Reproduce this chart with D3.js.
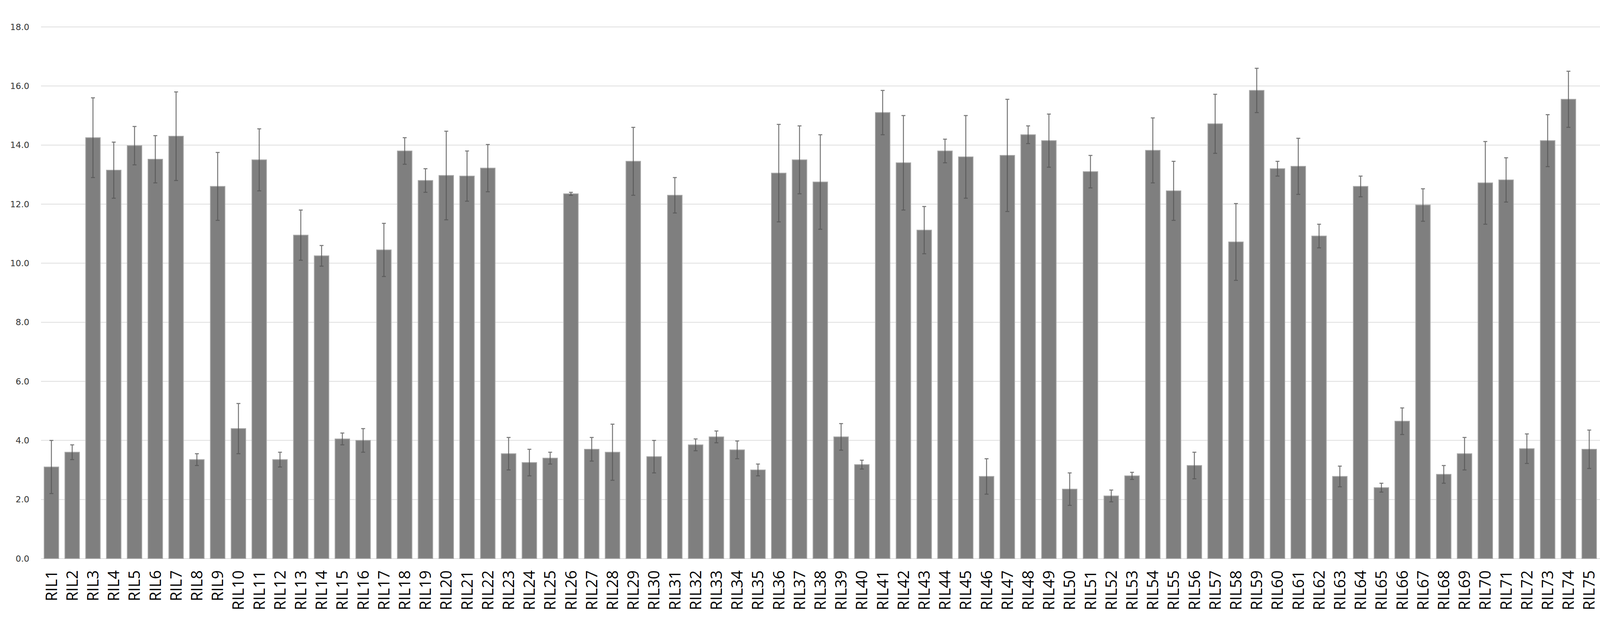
<!DOCTYPE html>
<html><head><meta charset="utf-8">
<script src="https://cdn.jsdelivr.net/npm/d3@7"></script>
<style>body{margin:0;background:#fff}</style></head>
<body><svg id="chart" width="4394" height="1591"></svg>
<script>
const lines = ["RIL1","RIL2","RIL3","RIL4","RIL5","RIL6","RIL7","RIL8","RIL9","RIL10","RIL11","RIL12","RIL13","RIL14","RIL15","RIL16","RIL17","RIL18","RIL19","RIL20","RIL21","RIL22","RIL23","RIL24","RIL25","RIL26","RIL27","RIL28","RIL29","RIL30","RIL31","RIL32","RIL33","RIL34","RIL35","RIL36","RIL37","RIL38","RIL39","RIL40","RIL41","RIL42","RIL43","RIL44","RIL45","RIL46","RIL47","RIL48","RIL49","RIL50","RIL51","RIL52","RIL53","RIL54","RIL55","RIL56","RIL57","RIL58","RIL59","RIL60","RIL61","RIL62","RIL63","RIL64","RIL65","RIL66","RIL67","RIL68","RIL69","RIL70","RIL71","RIL72","RIL73","RIL74","RIL75","RIL76","RIL78","RIL79","RIL80","RIL81"];
const means = [3.1,3.6,14.25,13.15,13.98,13.52,14.3,3.35,12.6,4.4,13.5,3.35,10.95,10.25,4.05,4.0,10.45,13.8,12.8,12.97,12.95,13.22,3.55,3.25,3.4,12.35,3.7,3.6,13.45,3.45,12.3,3.85,4.12,3.68,3.0,13.05,13.5,12.75,4.12,3.18,15.1,13.4,11.12,13.8,13.6,2.78,13.65,14.35,14.15,2.35,13.1,2.12,2.8,13.82,12.45,3.15,14.72,10.72,15.85,13.2,13.28,10.92,2.78,12.6,2.4,4.65,11.97,2.85,3.55,12.72,12.82,3.72,14.15,15.55,3.7,3.65,3.2,4.45,3.65,3.47];
const errs = [0.9,0.25,1.35,0.95,0.65,0.8,1.5,0.2,1.15,0.85,1.05,0.25,0.85,0.35,0.2,0.4,0.9,0.45,0.4,1.5,0.85,0.8,0.55,0.45,0.2,0.05,0.4,0.95,1.15,0.55,0.6,0.2,0.2,0.3,0.2,1.65,1.15,1.6,0.45,0.15,0.75,1.6,0.8,0.4,1.4,0.6,1.9,0.3,0.9,0.55,0.55,0.2,0.12,1.1,1.0,0.45,1.0,1.3,0.75,0.25,0.95,0.4,0.35,0.35,0.15,0.45,0.55,0.3,0.55,1.4,0.75,0.5,0.88,0.95,0.65,0.75,0.55,0.9,1.05,0.92];
const yTicks = [0,2,4,6,8,10,12,14,16,18];

const svg = d3.select('#chart');
const mLeft = 105, mRight = 4361, mTop = 69, mBottom = 1431;

const x = d3.scaleBand().domain(lines).range([mLeft, mRight]).paddingInner(0.3).paddingOuter(0.15);
const y = d3.scaleLinear().domain([0, 18]).range([mBottom, mTop]);

// gridlines
svg.append('g').selectAll('line').data(yTicks).join('line')
  .attr('x1', mLeft).attr('x2', mRight)
  .attr('y1', d => y(d)).attr('y2', d => y(d))
  .attr('stroke', '#dedede').attr('stroke-width', 2);

// y axis labels
svg.append('g').selectAll('text').data(yTicks).join('text')
  .attr('x', 75).attr('y', d => y(d)).attr('dy', '0.35em')
  .attr('text-anchor', 'end')
  .style('font-family', 'DejaVu Sans').style('font-size', '22px').attr('fill', '#333')
  .text(d => d.toFixed(1));

// bars
svg.append('g').selectAll('rect').data(means).join('rect')
  .attr('x', (d, i) => x(lines[i])).attr('width', x.bandwidth())
  .attr('y', d => y(d)).attr('height', d => y(0) - y(d))
  .attr('fill', '#7f7f7f').attr('stroke', '#a6a6a6').attr('stroke-width', 2);

// error bars
const eb = svg.append('g').attr('stroke', '#555').attr('stroke-width', 2.5).attr('opacity', 0.8);
means.forEach((m, i) => {
  const cx = x(lines[i]) + x.bandwidth() / 2;
  const hi = y(m + errs[i]), lo = y(m - errs[i]);
  eb.append('line').attr('x1', cx).attr('x2', cx).attr('y1', hi).attr('y2', lo);
  eb.append('line').attr('x1', cx - 5).attr('x2', cx + 5).attr('y1', hi).attr('y2', hi);
  eb.append('line').attr('x1', cx - 5).attr('x2', cx + 5).attr('y1', lo).attr('y2', lo);
});

// x labels
svg.append('g').selectAll('text').data(lines).join('text')
  .attr('transform', d => `translate(${x(d) + x.bandwidth() / 2 + 14}, ${mBottom + 30}) rotate(-90)`)
  .attr('text-anchor', 'end')
  .style('font-family', 'Open Sans').style('font-size', '40px').attr('fill', '#000')
  .text(d => d);
</script></body></html>
